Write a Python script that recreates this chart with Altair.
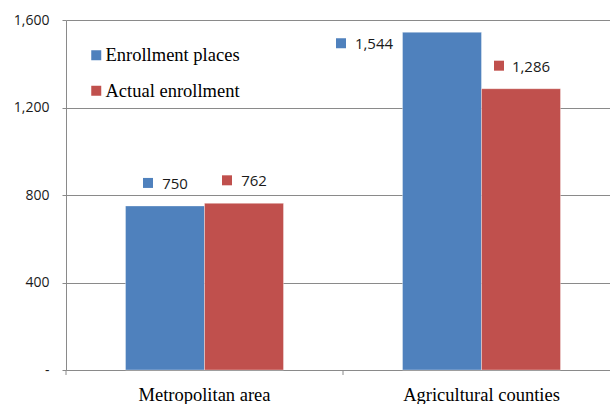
import altair as alt
import pandas as pd

# ---- data ----
categories = ["Metropolitan area", "Agricultural counties"]
series_names = ["Enrollment places", "Actual enrollment"]
enrollment_places = [750, 1544]
actual_enrollment = [762, 1286]
y_tick_values = [0, 400, 800, 1200, 1600]
series_colors = ["#4F81BD", "#C0504D"]

records = []
for i, cat in enumerate(categories):
    for s, vals in zip(series_names, [enrollment_places, actual_enrollment]):
        records.append({"category": cat, "series": s, "value": vals[i],
                        "label": f"{vals[i]:,}"})
df = pd.DataFrame(records)
ticks_df = pd.DataFrame({"category": categories})

GRID = "#8a8a8a"
TXT = "#1a1a1a"
SANS = "Open Sans"
SERIF = "Liberation Serif"


def square_path(cx, cy, half=5.0, unit=5.0):
    """Custom symbol path (size=100 -> 5px per unit) of a square offset from the anchor."""
    x0, y0 = (cx - half) / unit, (cy - half) / unit
    s = 2 * half / unit
    return f"M {x0:.3f} {y0:.3f} h {s:.3f} v {s:.3f} h {-s:.3f} Z"


x_enc = alt.X(
    "category:N", sort=categories,
    scale=alt.Scale(range=[0, 554], paddingInner=0, paddingOuter=0),
    axis=alt.Axis(title=None, labelAngle=0, ticks=False, tickSize=0,
                  labelFont=SERIF, labelFontSize=18.5, labelColor="#000000",
                  labelBaseline="alphabetic", labelPadding=30,
                  domainColor=GRID, domainWidth=1, grid=False),
)
xoff_enc = alt.XOffset("series:N", sort=series_names,
                       scale=alt.Scale(paddingInner=0, paddingOuter=0.753))
y_enc = alt.Y(
    "value:Q",
    scale=alt.Scale(domain=[0, 1600], nice=False, zero=True),
    axis=alt.Axis(title=None, values=y_tick_values,
                  labelExpr="datum.value == 0 ? '-' : format(datum.value, ',')",
                  labelFont=SANS, labelFontSize=14, labelColor=TXT,
                  labelPadding=13, tickSize=4, tickColor=GRID,
                  domainColor=GRID, grid=True, gridColor=GRID, gridWidth=1),
)
color_scale = alt.Scale(domain=series_names, range=series_colors)
color_enc = alt.Color(
    "series:N", sort=series_names, scale=color_scale,
    legend=alt.Legend(title=None, orient="none", legendX=21, legendY=26,
                      direction="vertical", symbolType="square", symbolSize=100,
                      symbolStrokeWidth=0, symbolOpacity=1,
                      labelFont=SERIF, labelFontSize=18.5, labelColor="#000000",
                      labelOffset=0, rowPadding=16.5, padding=0),
)

base = alt.Chart(df)

bars = base.mark_bar(stroke="#ffffff", strokeOpacity=0.35, strokeWidth=1).encode(
    x=x_enc, xOffset=xoff_enc, y=y_enc, color=color_enc)

band_ticks = alt.Chart(ticks_df).mark_rule(color=GRID, strokeWidth=1).encode(
    x=alt.X("category:N", sort=categories, bandPosition=0),
    y=alt.value(350), y2=alt.value(355))

# data labels that fit above their bar
normal = base.transform_filter("datum.value < 1500")
lab_text = normal.mark_text(font=SANS, fontSize=15, color=TXT, align="center",
                            baseline="middle", dx=10, dy=-22).encode(
    x=x_enc, xOffset=xoff_enc, y=y_enc, text="label:N")
lab_sq_short = normal.transform_filter("length(datum.label) <= 3").mark_point(
    shape=square_path(-17, -23), size=100, filled=True, opacity=1, strokeWidth=0
).encode(x=x_enc, xOffset=xoff_enc, y=y_enc, color=color_enc)
lab_sq_long = normal.transform_filter("length(datum.label) > 3").mark_point(
    shape=square_path(-22, -23), size=100, filled=True, opacity=1, strokeWidth=0
).encode(x=x_enc, xOffset=xoff_enc, y=y_enc, color=color_enc)

# label that would run past the top: placed left of its bar
top = base.transform_filter("datum.value >= 1500")
top_text = top.mark_text(font=SANS, fontSize=15, color=TXT, align="center",
                         baseline="middle", dx=-68, dy=12).encode(
    x=x_enc, xOffset=xoff_enc, y=y_enc, text="label:N")
top_sq = top.mark_point(
    shape=square_path(-101, 11), size=100, filled=True, opacity=1, strokeWidth=0
).encode(x=x_enc, xOffset=xoff_enc, y=y_enc, color=color_enc)

chart = alt.layer(
    bars, band_ticks, lab_text, lab_sq_short, lab_sq_long, top_text, top_sq
).properties(
    width=544, height=350,
    padding={"left": 66, "top": 20, "right": 0, "bottom": 34},
    autosize=alt.AutoSizeParams(type="none"),
    background="white",
).configure_view(stroke=None)

chart.save("out.html", embed_options={"renderer": "svg", "actions": False})
